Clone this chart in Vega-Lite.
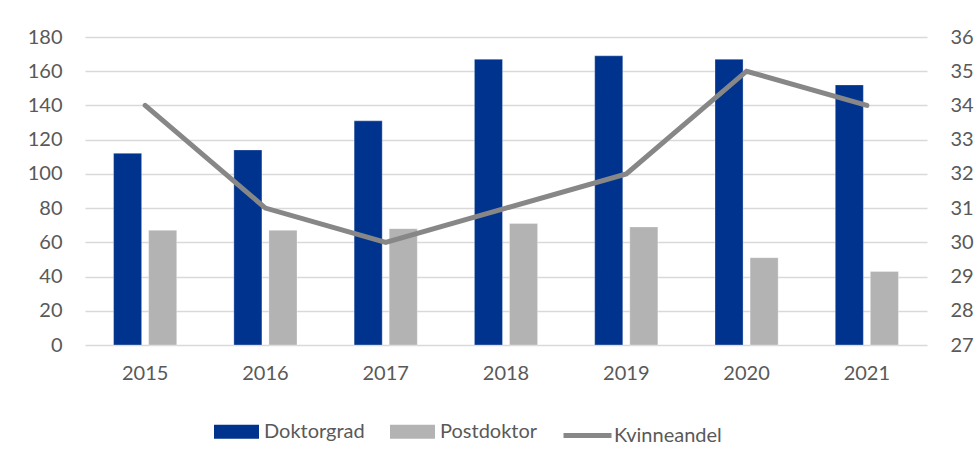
{
  "$schema": "https://vega.github.io/schema/vega-lite/v6.json",
  "width": 842,
  "height": 308,
  "autosize": {"type": "none"},
  "padding": {"left": 85, "top": 37, "right": 51, "bottom": 117},
  "background": "white",
  "config": {
    "view": {"stroke": null},
    "font": "Lato",
    "axis": {"labelFont": "Lato", "labelFontSize": 20, "labelColor": "#595959", "ticks": false, "domain": false, "title": null},
    "legend": {"labelFont": "Lato", "labelFontSize": 20, "labelColor": "#595959"}
  },
  "datasets": {
    "bars": [
      {"year": "2015", "series": "Doktorgrad", "value": 112},
      {"year": "2015", "series": "Postdoktor", "value": 67},
      {"year": "2016", "series": "Doktorgrad", "value": 114},
      {"year": "2016", "series": "Postdoktor", "value": 67},
      {"year": "2017", "series": "Doktorgrad", "value": 131},
      {"year": "2017", "series": "Postdoktor", "value": 68},
      {"year": "2018", "series": "Doktorgrad", "value": 167},
      {"year": "2018", "series": "Postdoktor", "value": 71},
      {"year": "2019", "series": "Doktorgrad", "value": 169},
      {"year": "2019", "series": "Postdoktor", "value": 69},
      {"year": "2020", "series": "Doktorgrad", "value": 167},
      {"year": "2020", "series": "Postdoktor", "value": 51},
      {"year": "2021", "series": "Doktorgrad", "value": 152},
      {"year": "2021", "series": "Postdoktor", "value": 43}
    ],
    "line": [
      {"year": "2015", "andel": 34},
      {"year": "2016", "andel": 31},
      {"year": "2017", "andel": 30},
      {"year": "2018", "andel": 31},
      {"year": "2019", "andel": 32},
      {"year": "2020", "andel": 35},
      {"year": "2021", "andel": 34}
    ]
  },
  "layer": [
    {
      "data": {"name": "bars"},
      "mark": {"type": "bar", "stroke": "#ffffff", "strokeWidth": 0.6, "strokeOpacity": 0.5},
      "encoding": {
        "x": {
          "field": "year", "type": "nominal",
          "scale": {"paddingInner": 0.475, "paddingOuter": 0.2375},
          "axis": {"labelAngle": 0, "labelPadding": 18, "grid": false}
        },
        "xOffset": {
          "field": "series", "type": "nominal",
          "sort": ["Doktorgrad", "Postdoktor"],
          "scale": {"paddingInner": 0.2, "paddingOuter": 0}
        },
        "y": {
          "field": "value", "type": "quantitative",
          "scale": {"domain": [0, 180], "nice": false},
          "axis": {"values": [0, 20, 40, 60, 80, 100, 120, 140, 160, 180], "grid": true, "gridColor": "#d9d9d9", "gridWidth": 1.5, "labelPadding": 23}
        },
        "color": {
          "field": "series", "type": "nominal",
          "scale": {"domain": ["Doktorgrad", "Postdoktor"], "range": ["#00338D", "#B3B3B3"]},
          "legend": {
            "title": null, "orient": "none", "direction": "horizontal",
            "legendX": 129, "legendY": 372,
            "symbolType": "M-1,-0.31H1V0.31H-1Z", "symbolSize": 2025,
            "symbolStrokeWidth": 0, "symbolOpacity": 1,
            "labelOffset": 5, "columnPadding": 25
          }
        }
      }
    },
    {
      "data": {"name": "line"},
      "mark": {"type": "line", "strokeWidth": 5, "strokeCap": "round", "strokeJoin": "miter"},
      "encoding": {
        "x": {"field": "year", "type": "nominal"},
        "y": {
          "field": "andel", "type": "quantitative",
          "scale": {"domain": [27, 36], "nice": false, "zero": false},
          "axis": {"orient": "right", "values": [27, 28, 29, 30, 31, 32, 33, 34, 35, 36], "grid": false, "labelPadding": 23}
        },
        "stroke": {
          "datum": "Kvinneandel", "type": "nominal",
          "scale": {"domain": ["Kvinneandel"], "range": ["#878787"]},
          "legend": {
            "title": null, "orient": "none",
            "legendX": 476, "legendY": 372,
            "symbolType": "stroke", "symbolSize": 2304, "symbolStrokeWidth": 5,
            "labelOffset": 0
          }
        }
      }
    }
  ],
  "resolve": {"scale": {"y": "independent", "color": "independent", "stroke": "independent"}}
}
